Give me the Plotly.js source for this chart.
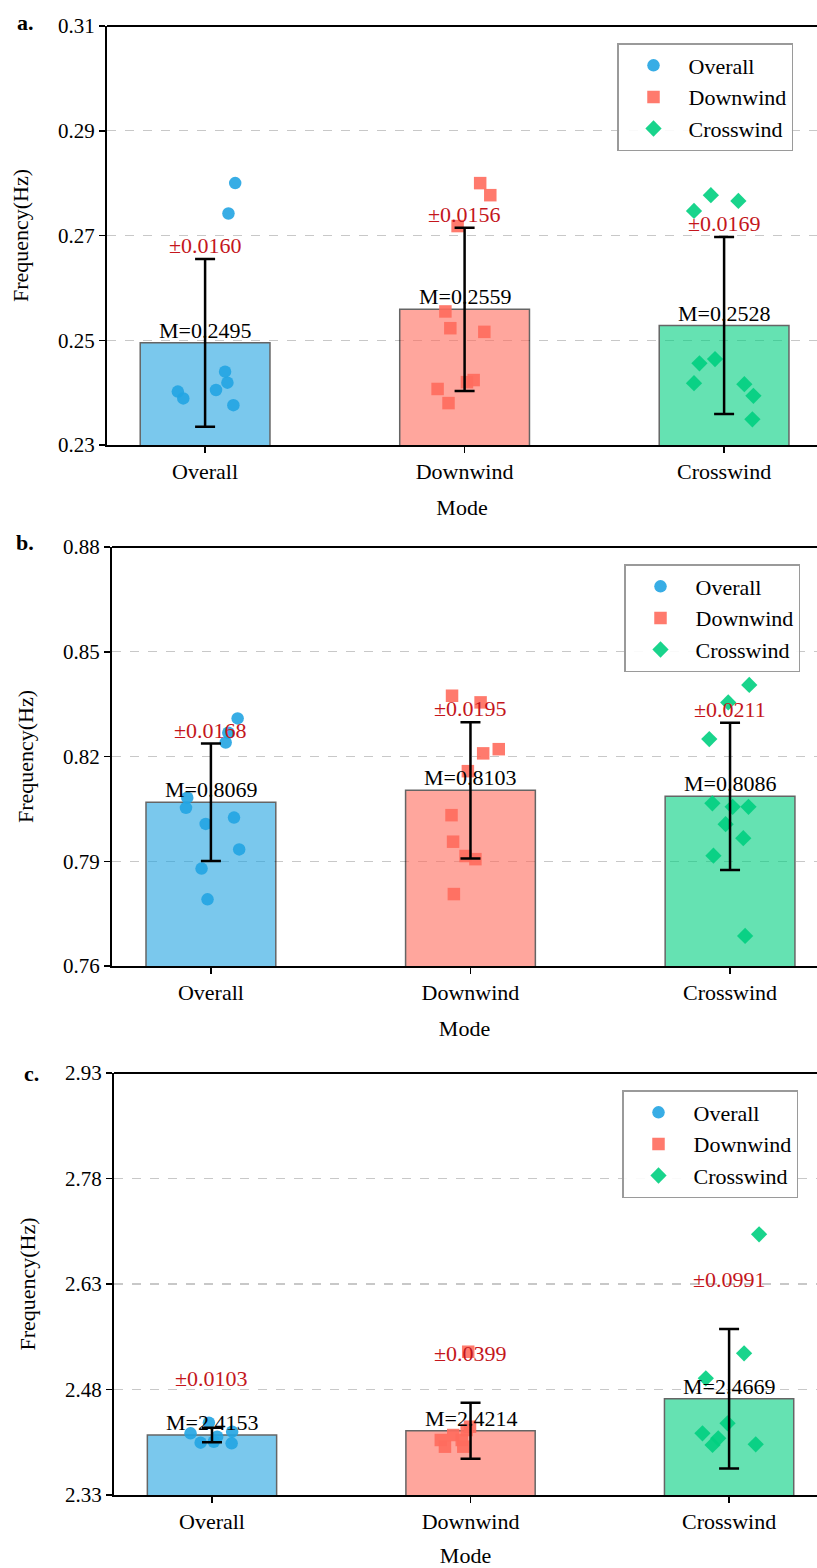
<!DOCTYPE html>
<html>
<head>
<meta charset="utf-8">
<script src="https://cdn.plot.ly/plotly-3.0.1.min.js"></script>
<style>html,body{margin:0;padding:0;background:#fff;overflow:hidden;}</style>
</head>
<body>
<div id="chart" style="width:817px;height:1568px;"></div>
<script>
// ---------------- DATA ----------------
const categories = ['Overall', 'Downwind', 'Crosswind'];
const panelLetters = ['a.', 'b.', 'c.'];

const aMeans = [0.2495, 0.2559, 0.2528];
const aSds   = [0.0160, 0.0156, 0.0169];
const bMeans = [0.8069, 0.8103, 0.8086];
const bSds   = [0.0168, 0.0195, 0.0211];
const cMeans = [2.4153, 2.4214, 2.4669];
const cSds   = [0.0103, 0.0399, 0.0991];

const aTicks = [0.23, 0.25, 0.27, 0.29, 0.31];
const aTickText = ['0.23', '0.25', '0.27', '0.29', '0.31'];
const bTicks = [0.76, 0.79, 0.82, 0.85, 0.88];
const bTickText = ['0.76', '0.79', '0.82', '0.85', '0.88'];
const cTicks = [2.33, 2.48, 2.63, 2.78, 2.93];
const cTickText = ['2.33', '2.48', '2.63', '2.78', '2.93'];

// individual points (value) and their horizontal jitter (category units)
const aOverallY   = [0.2800, 0.2742, 0.2440, 0.2419, 0.2405, 0.2402, 0.2389, 0.2376];
const aOverallJit = [0.116, 0.090, 0.077, 0.086, 0.042, -0.105, -0.084, 0.109];
const aDownY      = [0.2800, 0.2777, 0.2718, 0.2555, 0.2523, 0.2516, 0.2420, 0.2424, 0.2407, 0.2380];
const aDownJit    = [0.060, 0.099, -0.027, -0.074, -0.055, 0.076, 0.009, 0.035, -0.104, -0.062];
const aCrossY     = [0.2747, 0.2777, 0.2766, 0.2456, 0.2464, 0.2418, 0.2416, 0.2394, 0.2349];
const aCrossJit   = [-0.116, -0.051, 0.055, -0.095, -0.035, -0.116, 0.078, 0.113, 0.109];

const bOverallY   = [0.8309, 0.8268, 0.8240, 0.8082, 0.8053, 0.8025, 0.8007, 0.7934, 0.7879, 0.7791];
const bOverallJit = [0.103, 0.067, 0.057, -0.091, -0.096, 0.089, -0.020, 0.109, -0.036, -0.013];
const bDownY      = [0.8374, 0.8355, 0.8221, 0.8209, 0.8158, 0.8032, 0.7956, 0.7915, 0.7906, 0.7806];
const bDownJit    = [-0.071, 0.039, 0.109, 0.049, -0.010, -0.073, -0.067, -0.019, 0.019, -0.064];
const bCrossY     = [0.8405, 0.8355, 0.8250, 0.8066, 0.8056, 0.8056, 0.8006, 0.7966, 0.7916, 0.7686];
const bCrossJit   = [0.074, -0.007, -0.080, -0.068, 0.010, 0.071, -0.017, 0.051, -0.064, 0.058];

const cOverallY   = [2.4177, 2.4044, 2.4328, 2.4129, 2.4200, 2.4035, 2.4057];
const cOverallJit = [-0.083, -0.044, -0.012, 0.020, 0.078, 0.076, 0.007];
const cDownY      = [2.5337, 2.4082, 2.3987, 2.4153, 2.4082, 2.4224, 2.3987, 2.4271];
const cDownJit    = [-0.009, -0.115, -0.099, -0.067, -0.034, -0.015, -0.028, -0.002];
const cCrossY     = [2.7007, 2.5314, 2.4959, 2.4319, 2.4177, 2.4106, 2.4011, 2.4020];
const cCrossJit   = [0.116, 0.058, -0.090, -0.006, -0.103, -0.042, -0.064, 0.103];

// ---------------- STYLE ----------------
const FONT = 'Liberation Serif';
const colors = ['#22A4E2', '#FF6C5D', '#00CF80'];
const symbols = ['circle', 'square', 'diamond'];
const labelRed = '#C4161C';

const panels = [
  {means: aMeans, sds: aSds, ticks: aTicks, tickText: aTickText,
   pts: [[aOverallY, aOverallJit], [aDownY, aDownJit], [aCrossY, aCrossJit]],
   xdom: [107/817, 1], xr: [-0.378, 2.358], ydom: [1-445/1568, 1-26/1568],
   legPos: [617/817, 1-43/1568], letterPos: [25/817, 1-23/1568], sdShift: 0},
  {means: bMeans, sds: bSds, ticks: bTicks, tickText: bTickText,
   pts: [[bOverallY, bOverallJit], [bDownY, bDownJit], [bCrossY, bCrossJit]],
   xdom: [112/817, 1], xr: [-0.381, 2.335], ydom: [1-966/1568, 1-547/1568],
   legPos: [624/817, 1-564/1568], letterPos: [25/817, 1-542/1568], sdShift: 0},
  {means: cMeans, sds: cSds, ticks: cTicks, tickText: cTickText,
   pts: [[cOverallY, cOverallJit], [cDownY, cDownJit], [cCrossY, cCrossJit]],
   xdom: [114/817, 1], xr: [-0.379, 2.340], ydom: [1-1495/1568, 1-1073/1568],
   legPos: [622/817, 1-1090/1568], letterPos: [32/817, 1-1073/1568], sdShift: 36}
];

const traces = [];
const annotations = [];
const shapes = [];
const layout = {
  width: 817, height: 1568,
  margin: {l: 0, r: 0, t: 0, b: 0},
  paper_bgcolor: '#ffffff', plot_bgcolor: '#ffffff',
  font: {family: FONT, size: 20, color: '#000'},
  showlegend: true,
  barmode: 'overlay'
};

const idx = categories.map((_, i) => i);

panels.forEach((p, k) => {
  const sfx = k === 0 ? '' : String(k + 1);
  const xa = 'x' + sfx, ya = 'y' + sfx;
  const legName = 'legend' + sfx;

  // bars
  traces.push({
    type: 'bar', x: idx, y: p.means, width: 0.5,
    xaxis: xa, yaxis: ya, showlegend: false, hoverinfo: 'skip',
    marker: {color: colors, opacity: 0.6, line: {color: '#000', width: 1.5}}
  });

  // points
  categories.forEach((cat, i) => {
    const [ys, jit] = p.pts[i];
    traces.push({
      type: 'scatter', mode: 'markers', name: cat,
      x: jit.map(j => i + j), y: ys,
      xaxis: xa, yaxis: ya, legend: legName, legendgroup: 'g' + k + i,
      marker: {symbol: symbols[i], color: colors[i], size: 12.5, opacity: 0.9, line: {width: 0}},
      hoverinfo: 'skip'
    });
  });

  // error bars on top of points
  traces.push({
    type: 'scatter', mode: 'markers', x: idx, y: p.means,
    xaxis: xa, yaxis: ya, showlegend: false, hoverinfo: 'skip',
    marker: {size: 1, color: 'rgba(0,0,0,0)'},
    error_y: {type: 'data', array: p.sds, visible: true, color: '#000', thickness: 2.5, width: 10}
  });

  // labels
  categories.forEach((cat, i) => {
    annotations.push({
      xref: xa, yref: ya, x: i, y: p.means[i], yanchor: 'bottom', xanchor: 'center',
      text: 'M=' + p.means[i].toFixed(4), showarrow: false,
      font: {family: FONT, size: 22, color: '#000'}, yshift: -2
    });
    annotations.push({
      xref: xa, yref: ya, x: i, y: p.means[i] + p.sds[i], yanchor: 'bottom', xanchor: 'center',
      text: '\u00B1' + p.sds[i].toFixed(4), showarrow: false,
      font: {family: FONT, size: 22, color: labelRed}, yshift: p.sdShift - 1
    });
  });

  annotations.push({
    xref: 'paper', yref: 'paper', x: p.letterPos[0], y: p.letterPos[1],
    xanchor: 'center', yanchor: 'middle', text: '<b>' + panelLetters[k] + '</b>',
    showarrow: false, font: {family: FONT, size: 22, color: '#000'}
  });

  // top spine
  shapes.push({type: 'line', xref: xa + ' domain', yref: ya + ' domain',
    x0: 0, x1: 1, y0: 1, y1: 1, line: {color: '#000', width: 2}});

  layout['xaxis' + sfx] = {
    domain: p.xdom, range: p.xr, anchor: ya, type: 'linear',
    tickvals: idx, ticktext: categories, ticks: 'outside', ticklen: 6, tickwidth: 1.5, tickcolor: '#000',
    showline: true, linecolor: '#000', linewidth: 2, showgrid: false, zeroline: false,
    tickfont: {family: FONT, size: 22, color: '#000'},
    title: {text: 'Mode', font: {family: FONT, size: 22, color: '#000'}, standoff: 16},
    automargin: false, fixedrange: true
  };
  layout['yaxis' + sfx] = {
    domain: p.ydom, range: [p.ticks[0], p.ticks[p.ticks.length - 1]], anchor: xa,
    tickvals: p.ticks, ticktext: p.tickText, ticks: 'outside', ticklen: 6, tickwidth: 1.5, tickcolor: '#000',
    showline: true, linecolor: '#000', linewidth: 2, zeroline: false,
    showgrid: true, gridcolor: '#c8c8c8', griddash: 'dash', gridwidth: 1.3,
    tickfont: {family: FONT, size: 21, color: '#000'},
    title: {text: 'Frequency(Hz)', font: {family: FONT, size: 22, color: '#000'}, standoff: 23},
    automargin: false, fixedrange: true
  };
  layout[legName] = {
    x: p.legPos[0], y: p.legPos[1], xanchor: 'left', yanchor: 'top',
    xref: 'paper', yref: 'paper',
    bgcolor: 'rgba(255,255,255,0.9)', bordercolor: '#9a9a9a', borderwidth: 1.5,
    font: {family: FONT, size: 22, color: '#000'},
    itemwidth: 60, tracegroupgap: 5, traceorder: 'normal'
  };
});

layout.annotations = annotations;
layout.shapes = shapes;

Plotly.newPlot('chart', traces, layout, {displayModeBar: false, staticPlot: true});
</script>
</body>
</html>
